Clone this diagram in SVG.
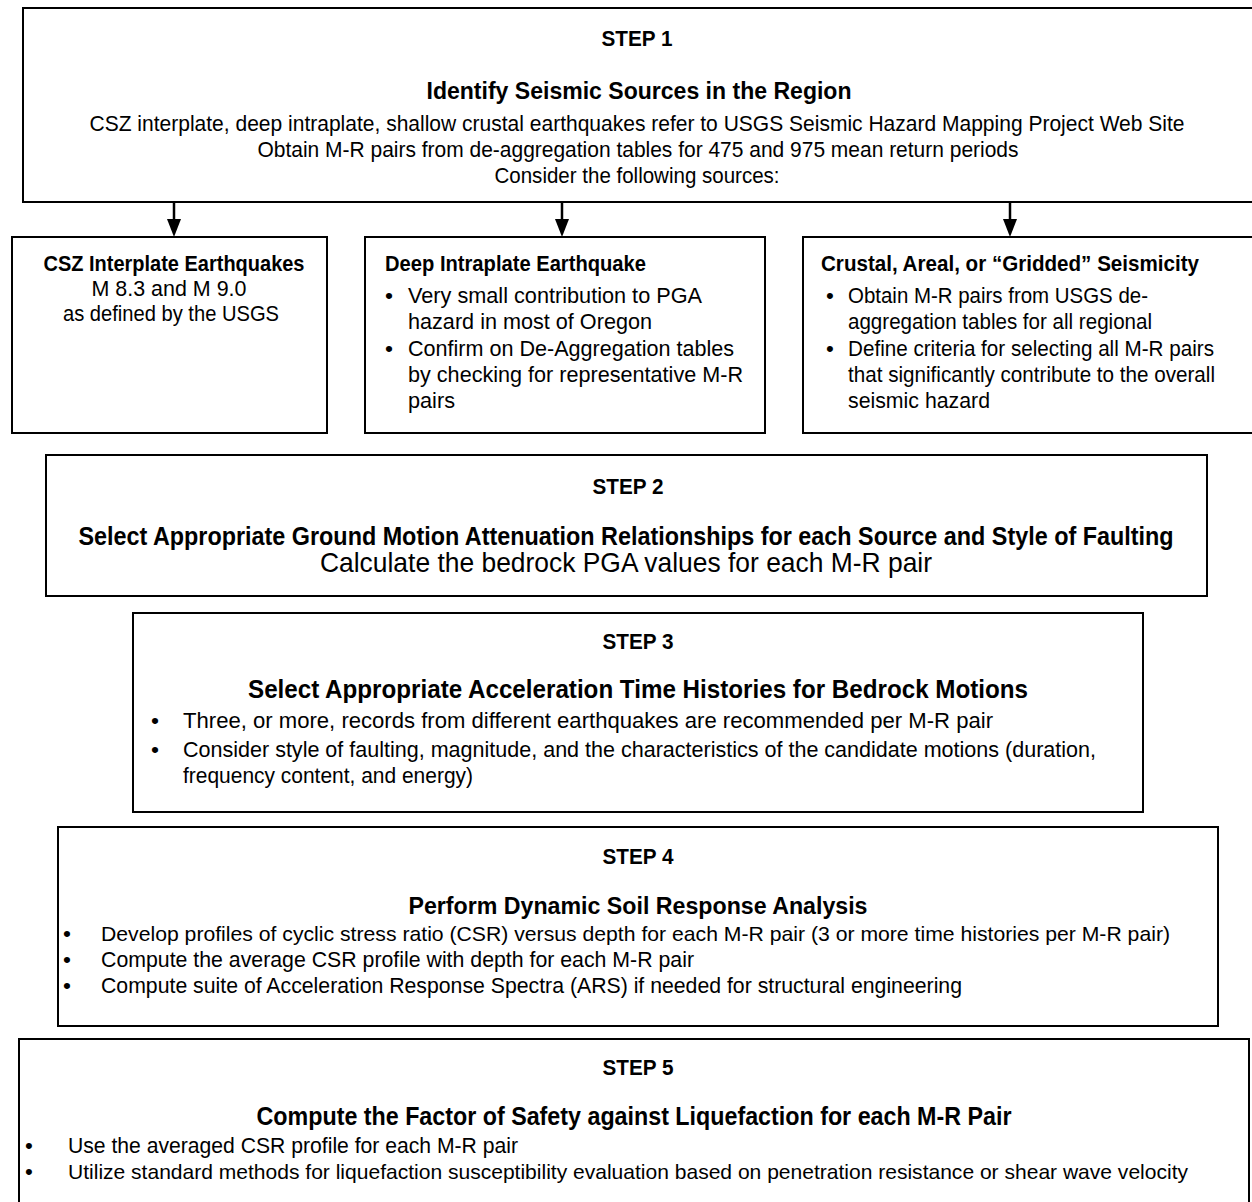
<svg xmlns="http://www.w3.org/2000/svg" width="1252" height="1202" viewBox="0 0 1252 1202">
<style>
.box{fill:#fff;stroke:#000;stroke-width:2}
text{font-family:"Liberation Sans",Arial,sans-serif;fill:#000}
.s{font-size:21.5px;font-weight:bold;text-anchor:middle}
.m{text-anchor:middle}
.bd{font-weight:bold}
.t21{font-size:21.2px}
.t21b{font-size:21.8px}
.b21{font-size:21px}
.b22{font-size:22.3px}
.b23{font-size:22.8px}
.b226{font-size:22.6px}
.h24{font-size:24.4px}
.h25{font-size:25px}
.h275{font-size:27.5px}
.conn line{stroke:#000;stroke-width:2.5}
.conn path{fill:#000}
</style>
<rect width="1252" height="1202" fill="#fff"/>

<g id="step1">
<path class="box" d="M1253,8 H23 V202 H1253"/>
<text class="s" x="637" y="46" textLength="71" lengthAdjust="spacingAndGlyphs">STEP 1</text>
<text class="m bd h24" x="639" y="99" textLength="425" lengthAdjust="spacingAndGlyphs">Identify Seismic Sources in the Region</text>
<text class="m b22" x="637" y="131" textLength="1095" lengthAdjust="spacingAndGlyphs">CSZ interplate, deep intraplate, shallow crustal earthquakes refer to USGS Seismic Hazard Mapping Project Web Site</text>
<text class="m b22" x="638" y="157" textLength="761" lengthAdjust="spacingAndGlyphs">Obtain M-R pairs from de-aggregation tables for 475 and 975 mean return periods</text>
<text class="m b22" x="637" y="183" textLength="285" lengthAdjust="spacingAndGlyphs">Consider the following sources:</text>
</g>

<g id="csz">
<rect class="box" x="12" y="237" width="315" height="196"/>
<text class="m bd t21" x="174" y="271" textLength="261" lengthAdjust="spacingAndGlyphs">CSZ Interplate Earthquakes</text>
<text class="m b22" x="169" y="296" textLength="155" lengthAdjust="spacingAndGlyphs">M 8.3 and M 9.0</text>
<text class="m b22" x="171" y="321" textLength="216" lengthAdjust="spacingAndGlyphs">as defined by the USGS</text>
</g>

<g id="deep">
<rect class="box" x="365" y="237" width="400" height="196"/>
<text class="bd t21" x="385" y="271" textLength="261" lengthAdjust="spacingAndGlyphs">Deep Intraplate Earthquake</text>
<text class="b23" x="385" y="303">•</text>
<text class="b23" x="408" y="303" textLength="294" lengthAdjust="spacingAndGlyphs">Very small contribution to PGA</text>
<text class="b23" x="408" y="329" textLength="244" lengthAdjust="spacingAndGlyphs">hazard in most of Oregon</text>
<text class="b23" x="385" y="356">•</text>
<text class="b23" x="408" y="356" textLength="326" lengthAdjust="spacingAndGlyphs">Confirm on De-Aggregation tables</text>
<text class="b23" x="408" y="382" textLength="335" lengthAdjust="spacingAndGlyphs">by checking for representative M-R</text>
<text class="b23" x="408" y="408" textLength="47" lengthAdjust="spacingAndGlyphs">pairs</text>
</g>

<g id="crustal">
<path class="box" d="M1253,237 H803 V433 H1253"/>
<text class="bd t21b" x="821" y="271" textLength="378" lengthAdjust="spacingAndGlyphs">Crustal, Areal, or “Gridded” Seismicity</text>
<text class="b22" x="826" y="303">•</text>
<text class="b22" x="848" y="303" textLength="300" lengthAdjust="spacingAndGlyphs">Obtain M-R pairs from USGS de-</text>
<text class="b22" x="848" y="329" textLength="304" lengthAdjust="spacingAndGlyphs">aggregation tables for all regional</text>
<text class="b22" x="826" y="356">•</text>
<text class="b22" x="848" y="356" textLength="366" lengthAdjust="spacingAndGlyphs">Define criteria for selecting all M-R pairs</text>
<text class="b22" x="848" y="382" textLength="367" lengthAdjust="spacingAndGlyphs">that significantly contribute to the overall</text>
<text class="b22" x="848" y="408" textLength="142" lengthAdjust="spacingAndGlyphs">seismic hazard</text>
</g>

<g id="step2">
<rect class="box" x="46" y="455" width="1161" height="141"/>
<text class="s" x="628" y="494" textLength="71" lengthAdjust="spacingAndGlyphs">STEP 2</text>
<text class="m bd h25" x="626" y="545" textLength="1095" lengthAdjust="spacingAndGlyphs">Select Appropriate Ground Motion Attenuation Relationships for each Source and Style of Faulting</text>
<text class="m h275" x="626" y="572" textLength="612" lengthAdjust="spacingAndGlyphs">Calculate the bedrock PGA values for each M-R pair</text>
</g>

<g id="step3">
<rect class="box" x="133" y="613" width="1010" height="199"/>
<text class="s" x="638" y="649" textLength="71" lengthAdjust="spacingAndGlyphs">STEP 3</text>
<text class="m bd h25" x="638" y="698" textLength="780" lengthAdjust="spacingAndGlyphs">Select Appropriate Acceleration Time Histories for Bedrock Motions</text>
<text class="b23" x="151" y="728">•</text>
<text class="b23" x="183" y="728" textLength="810" lengthAdjust="spacingAndGlyphs">Three, or more, records from different earthquakes are recommended per M-R pair</text>
<text class="b23" x="151" y="757">•</text>
<text class="b23" x="183" y="757" textLength="913" lengthAdjust="spacingAndGlyphs">Consider style of faulting, magnitude, and the characteristics of the candidate motions (duration,</text>
<text class="b23" x="183" y="783" textLength="290" lengthAdjust="spacingAndGlyphs">frequency content, and energy)</text>
</g>

<g id="step4">
<rect class="box" x="58" y="827" width="1160" height="199"/>
<text class="s" x="638" y="864" textLength="71" lengthAdjust="spacingAndGlyphs">STEP 4</text>
<text class="m bd h24" x="638" y="914" textLength="459" lengthAdjust="spacingAndGlyphs">Perform Dynamic Soil Response Analysis</text>
<text class="b226" x="63" y="941">•</text>
<text class="b21" x="101" y="941" textLength="1069" lengthAdjust="spacingAndGlyphs">Develop profiles of cyclic stress ratio (CSR) versus depth for each M-R pair (3 or more time histories per M-R pair)</text>
<text class="b226" x="63" y="967">•</text>
<text class="b226" x="101" y="967" textLength="593" lengthAdjust="spacingAndGlyphs">Compute the average CSR profile with depth for each M-R pair</text>
<text class="b226" x="63" y="993">•</text>
<text class="b226" x="101" y="993" textLength="861" lengthAdjust="spacingAndGlyphs">Compute suite of Acceleration Response Spectra (ARS) if needed for structural engineering</text>
</g>

<g id="step5">
<path class="box" d="M19,1203 V1039 H1249 V1203"/>
<text class="s" x="638" y="1075" textLength="71" lengthAdjust="spacingAndGlyphs">STEP 5</text>
<text class="m bd h25" x="634" y="1125" textLength="755" lengthAdjust="spacingAndGlyphs">Compute the Factor of Safety against Liquefaction for each M-R Pair</text>
<text class="b22" x="25" y="1153">•</text>
<text class="b22" x="68" y="1153" textLength="450" lengthAdjust="spacingAndGlyphs">Use the averaged CSR profile for each M-R pair</text>
<text class="b22" x="25" y="1179">•</text>
<text class="b21" x="68" y="1179" textLength="1120" lengthAdjust="spacingAndGlyphs">Utilize standard methods for liquefaction susceptibility evaluation based on penetration resistance or shear wave velocity</text>
</g>

<g id="connectors" class="conn">
<line x1="174" y1="202" x2="174" y2="219"/>
<path d="M167,219 L181,219 L174,237 Z"/>
<line x1="562" y1="202" x2="562" y2="219"/>
<path d="M555,219 L569,219 L562,237 Z"/>
<line x1="1010" y1="202" x2="1010" y2="219"/>
<path d="M1003,219 L1017,219 L1010,237 Z"/>
</g>
</svg>
